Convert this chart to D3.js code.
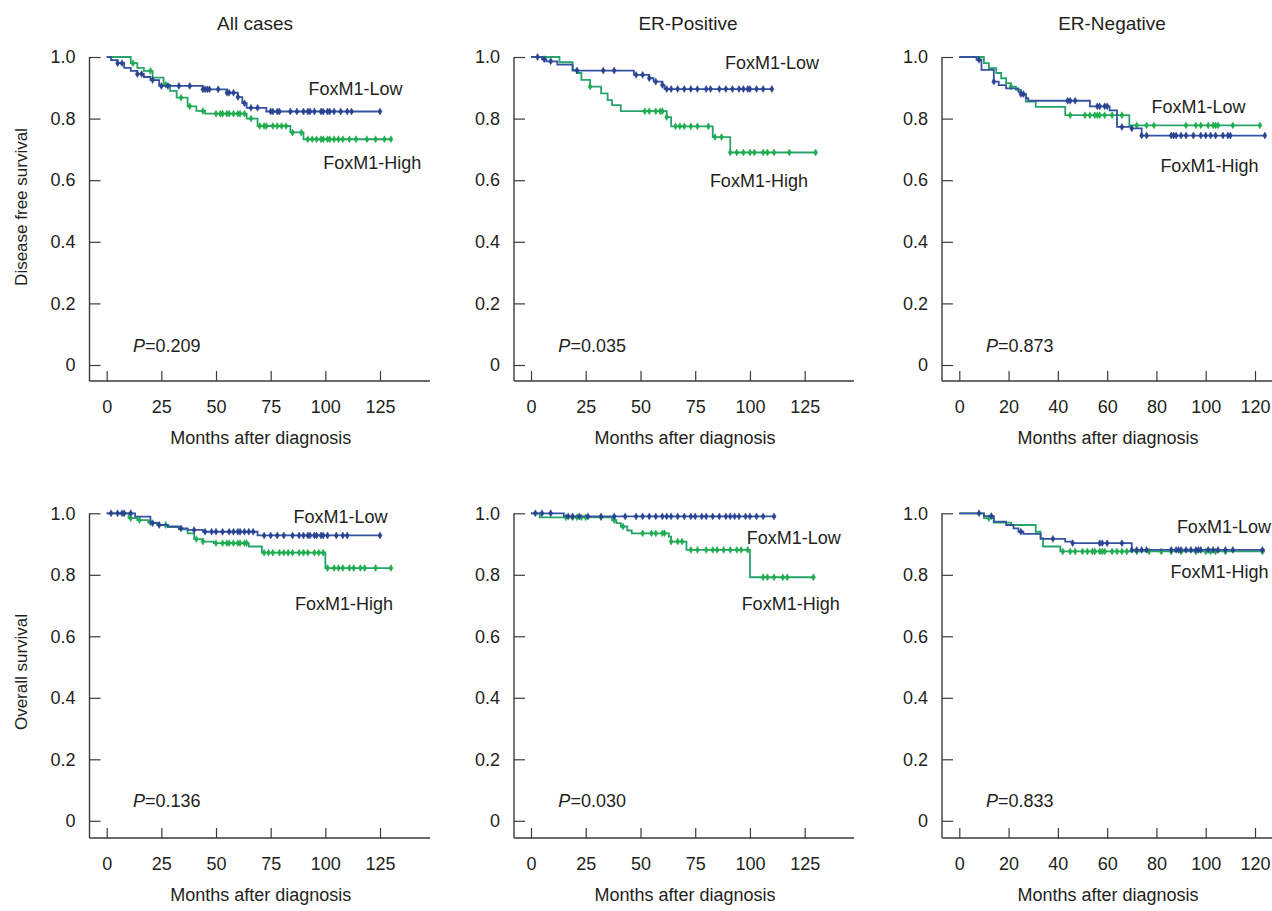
<!DOCTYPE html>
<html lang="en">
<head>
  <meta charset="UTF-8">
  <title>FoxM1 survival curves</title>
  <script src="https://d3js.org/d3.v7.min.js"></script>
  <style>
    body {
      margin: 0;
      padding: 0;
      background-color: #fff;
    }
    svg {
      display: block;
    }
    text {
      font-family: "Liberation Sans", Arial, Helvetica, sans-serif;
      fill: #231f20;
    }
  </style>
</head>
<body>
  <svg id="canvas"></svg>
  <script>
// ---- data: [months, survival] steps, censor times in months ----
const dfsAllLow = [[0,1],[2,0.99],[5,0.98],[8,0.965],[11,0.955],[14,0.945],[17,0.935],[20,0.925],[24,0.906],[44,0.895],[55,0.884],[60,0.87],[62,0.85],[64,0.835],[73,0.823],[125,0.823]];
const dfsAllLowCens = [5,7,14,16,21,25,28,33,38,44,45,46,47,51,55,56,58,60,63,66,69,75,76,78,79,84,87,90,92,93,95,98,99,101,102,104,107,110,112,125];
const dfsAllHigh = [[0,1],[11,0.98],[14,0.965],[17,0.955],[21,0.933],[26,0.91],[29,0.89],[32,0.868],[37,0.84],[41,0.825],[45,0.816],[64,0.8],[69,0.776],[84,0.755],[90,0.733],[130,0.733]];
const dfsAllHighCens = [12,20,27,34,38,44,50,52,53,55,56,58,60,61,63,66,70,72,73,76,78,80,82,85,89,92,94,96,98,99,101,102,104,106,108,111,114,119,123,127,130];

const dfsPosLow = [[0,1],[5,0.993],[7,0.986],[12,0.975],[19,0.956],[47,0.942],[54,0.931],[56,0.92],[60,0.909],[61,0.896],[110,0.896]];
const dfsPosLowCens = [3,6,9,21,33,38,48,51,54,57,60,62,64,67,70,73,76,80,82,86,89,92,95,97,99,100,103,106,110];
const dfsPosHigh = [[0,1],[13,0.983],[19,0.958],[21,0.948],[23,0.926],[27,0.904],[32,0.882],[35,0.86],[37,0.844],[41,0.824],[62,0.805],[64,0.775],[83,0.74],[91,0.69],[130,0.69]];
const dfsPosHighCens = [27,52,54,57,59,60,62,66,68,70,73,76,81,84,87,91,94,97,100,102,106,108,111,118,130];

const dfsNegLow = [[0,1],[7,0.991],[9,0.958],[14,0.92],[16,0.909],[19,0.898],[24,0.887],[25,0.88],[27,0.866],[28,0.858],[53,0.84],[61,0.827],[64,0.773],[70,0.768],[74,0.745],[124,0.745]];
const dfsNegLowCens = [8,14,25,26,44,45,47,56,57,59,60,66,70,74,76,86,87,88,90,92,95,98,100,102,104,107,109,110,124];
const dfsNegHigh = [[0,1],[10,0.98],[12,0.964],[15,0.948],[17,0.931],[19,0.915],[21,0.904],[23,0.893],[25,0.877],[27,0.855],[31,0.838],[43,0.811],[69,0.778],[122,0.778]];
const dfsNegHighCens = [21,45,51,53,55,56,57,59,62,66,72,76,79,92,96,98,101,103,104,105,111,122];

const osAllLow = [[0,1],[13,0.989],[20,0.968],[24,0.962],[28,0.957],[33,0.951],[37,0.946],[44,0.94],[69,0.928],[125,0.928]];
const osAllLowCens = [2,5,7,8,11,21,24,34,40,45,48,50,53,56,58,60,61,63,65,67,72,75,78,81,85,88,90,92,93,95,96,98,99,101,105,108,110,125];
const osAllHigh = [[0,1],[10,0.984],[14,0.978],[19,0.97],[23,0.962],[28,0.955],[33,0.948],[37,0.935],[40,0.916],[44,0.908],[49,0.903],[65,0.892],[71,0.872],[100,0.822],[130,0.822]];
const osAllHighCens = [11,15,20,27,41,44,50,53,55,56,58,60,61,63,64,72,74,76,79,81,83,85,88,90,92,95,97,99,101,104,106,108,111,113,116,118,123,130];

const osPosLow = [[0,1],[15,0.99],[111,0.99]];
const osPosLowCens = [2,5,9,17,19,22,26,32,38,43,48,51,54,57,60,62,64,67,70,73,75,78,80,83,86,89,91,93,95,98,100,103,106,111];
const osPosHigh = [[0,1],[4,0.987],[37,0.978],[39,0.968],[41,0.957],[44,0.944],[46,0.935],[63,0.924],[64,0.908],[71,0.881],[100,0.792],[129,0.792]];
const osPosHighCens = [16,19,21,23,25,32,38,42,51,55,57,60,61,64,67,69,73,76,80,83,85,88,91,94,96,99,106,108,111,115,117,129];

const osNegLow = [[0,1],[10,0.991],[14,0.973],[19,0.962],[22,0.951],[24,0.94],[26,0.933],[33,0.917],[43,0.908],[46,0.903],[70,0.881],[124,0.881]];
const osNegLowCens = [8,13,25,38,46,57,58,60,66,70,72,74,76,86,88,89,90,92,94,96,97,98,101,103,105,108,111,123];
const osNegHigh = [[0,1],[10,0.984],[14,0.97],[21,0.962],[31,0.94],[33,0.919],[34,0.892],[41,0.876],[124,0.876]];
const osNegHighCens = [12,42,45,47,50,52,54,55,57,58,59,62,64,66,68,72,77,82,86,90,96,100,102,104,108,123];

const titles = ["All cases", "ER-Positive", "ER-Negative"];
const rowTitles = ["Disease free survival", "Overall survival"];
const pValues = ["0.209", "0.035", "0.873", "0.136", "0.030", "0.833"];
const xTicks125 = [0, 25, 50, 75, 100, 125];
const xTicks120 = [0, 20, 40, 60, 80, 100, 120];
const yTicks = [0, 0.2, 0.4, 0.6, 0.8, 1.0];
const yTickLabels = ["0", "0.2", "0.4", "0.6", "0.8", "1.0"];

// ---- layout ----
const W = 1272, H = 911;
const rows = [
  { y1: 57, y0: 365, axisY: 381, rowTitleY: 207 },
  { y1: 513.3, y0: 820.8, axisY: 838, rowTitleY: 672 }
];
const cols = [
  { axisX: 89.5, r0: 106.7, r1: 380, dmax: 125, end: 430, titleX: 255, ticks: xTicks125 },
  { axisX: 514, r0: 531, r1: 804.7, dmax: 125, end: 854, titleX: 688, ticks: xTicks125 },
  { axisX: 942, r0: 959.3, r1: 1255, dmax: 120, end: 1272, titleX: 1112, ticks: xTicks120 }
];

// label anchor points in data units (months, survival)
const panels = [
  { row: 0, col: 0, low: dfsAllLow, lowCens: dfsAllLowCens, high: dfsAllHigh, highCens: dfsAllHighCens, lowLab: [92.3, 0.877], highLab: [99.1, 0.636], pLab: [12, 0.042] },
  { row: 0, col: 1, low: dfsPosLow, lowCens: dfsPosLowCens, high: dfsPosHigh, highCens: dfsPosHighCens, lowLab: [88.6, 0.96], highLab: [81.7, 0.579], pLab: [12.5, 0.042] },
  { row: 0, col: 2, low: dfsNegLow, lowCens: dfsNegLowCens, high: dfsNegHigh, highCens: dfsNegHighCens, lowLab: [78, 0.819], highLab: [81.6, 0.628], pLab: [10.8, 0.042] },
  { row: 1, col: 0, low: osAllLow, lowCens: osAllLowCens, high: osAllHigh, highCens: osAllHighCens, lowLab: [85.4, 0.969], highLab: [86.1, 0.686], pLab: [12, 0.045] },
  { row: 1, col: 1, low: osPosLow, lowCens: osPosLowCens, high: osPosHigh, highCens: osPosHighCens, lowLab: [98.5, 0.9], highLab: [96.2, 0.686], pLab: [12.5, 0.045] },
  { row: 1, col: 2, low: osNegLow, lowCens: osNegLowCens, high: osNegHigh, highCens: osNegHighCens, lowLab: [88.3, 0.936], highLab: [85.7, 0.79], pLab: [10.8, 0.045] }
];

const colLow = { line: "#3552a0", mark: "#2a4390" };
const colHigh = { line: "#27a36b", mark: "#1fae4c" };
const axisColor = "#3a3a3a";

const svg = d3.select("#canvas")
  .attr("width", W)
  .attr("height", H);

// survival value of a step curve at time t
function survAt(steps, t) {
  let s = steps[0][1];
  steps.forEach(d => { if (d[0] <= t) s = d[1]; });
  return s;
}

// column titles
titles.forEach((t, i) => {
  svg.append("text")
    .attr("x", cols[i].titleX)
    .attr("y", 30)
    .attr("text-anchor", "middle")
    .attr("font-size", 19)
    .text(t);
});

// row titles
rowTitles.forEach((t, i) => {
  svg.append("text")
    .attr("transform", `translate(27,${rows[i].rowTitleY}) rotate(-90)`)
    .attr("text-anchor", "middle")
    .attr("font-size", 17)
    .text(t);
});

panels.forEach((p, i) => {
  const r = rows[p.row];
  const c = cols[p.col];

  const x = d3.scaleLinear().domain([0, c.dmax]).range([c.r0, c.r1]);
  const y = d3.scaleLinear().domain([0, 1]).range([r.y0, r.y1]);

  const g = svg.append("g");

  // y axis
  const yAxis = d3.axisLeft(y)
    .tickValues(yTicks)
    .tickFormat((d, k) => yTickLabels[k])
    .tickSizeInner(-11)
    .tickSizeOuter(0)
    .tickPadding(14);
  const gy = g.append("g")
    .attr("transform", `translate(${c.axisX},0)`)
    .call(yAxis);
  gy.select(".domain").remove();
  gy.selectAll(".tick line").attr("stroke", axisColor).attr("stroke-width", 1.2);
  gy.selectAll(".tick text").attr("font-size", 18).attr("fill", "#231f20")
    .style("font-family", '"Liberation Sans", Arial, sans-serif');

  // x axis
  const xAxis = d3.axisBottom(x)
    .tickValues(c.ticks)
    .tickSizeInner(-10)
    .tickSizeOuter(0)
    .tickPadding(19);
  const gx = g.append("g")
    .attr("transform", `translate(0,${r.axisY})`)
    .call(xAxis);
  gx.select(".domain").remove();
  gx.selectAll(".tick line").attr("stroke", axisColor).attr("stroke-width", 1.2);
  gx.selectAll(".tick text").attr("font-size", 18).attr("fill", "#231f20")
    .style("font-family", '"Liberation Sans", Arial, sans-serif');

  // axis lines
  g.append("line")
    .attr("x1", c.axisX).attr("x2", c.axisX)
    .attr("y1", y(1)).attr("y2", r.axisY)
    .attr("stroke", axisColor).attr("stroke-width", 1.4);
  g.append("line")
    .attr("x1", c.axisX).attr("x2", c.end)
    .attr("y1", r.axisY).attr("y2", r.axisY)
    .attr("stroke", axisColor).attr("stroke-width", 1.4);

  // x axis title
  g.append("text")
    .attr("x", (c.axisX + c.end) / 2 + 1)
    .attr("y", r.axisY + 63)
    .attr("text-anchor", "middle")
    .attr("font-size", 18)
    .text("Months after diagnosis");

  // curves
  const line = d3.line()
    .x(d => x(d[0]))
    .y(d => y(d[1]))
    .curve(d3.curveStepAfter);

  const groups = [
    { steps: p.high, cens: p.highCens, col: colHigh },
    { steps: p.low, cens: p.lowCens, col: colLow }
  ];

  groups.forEach(grp => {
    g.append("path")
      .datum(grp.steps)
      .attr("d", line)
      .attr("fill", "none")
      .attr("stroke", grp.col.line)
      .attr("stroke-width", 1.8);

    g.selectAll(null)
      .data(grp.cens)
      .enter()
      .append("path")
      .attr("d", d3.symbol(d3.symbolDiamond, 14))
      .attr("transform", d => `translate(${x(d)},${y(survAt(grp.steps, d))})`)
      .attr("fill", grp.col.mark)
      .attr("stroke", grp.col.mark)
      .attr("stroke-width", 0.5);
  });

  // group labels
  g.append("text")
    .attr("x", x(p.lowLab[0]))
    .attr("y", y(p.lowLab[1]))
    .attr("font-size", 18)
    .text("FoxM1-Low");
  g.append("text")
    .attr("x", x(p.highLab[0]))
    .attr("y", y(p.highLab[1]))
    .attr("font-size", 18)
    .text("FoxM1-High");

  // p value
  const pt = g.append("text")
    .attr("x", x(p.pLab[0]))
    .attr("y", y(p.pLab[1]))
    .attr("font-size", 18);
  pt.append("tspan").attr("font-style", "italic").text("P");
  pt.append("tspan").text("=" + pValues[i]);
});
  </script>
</body>
</html>
